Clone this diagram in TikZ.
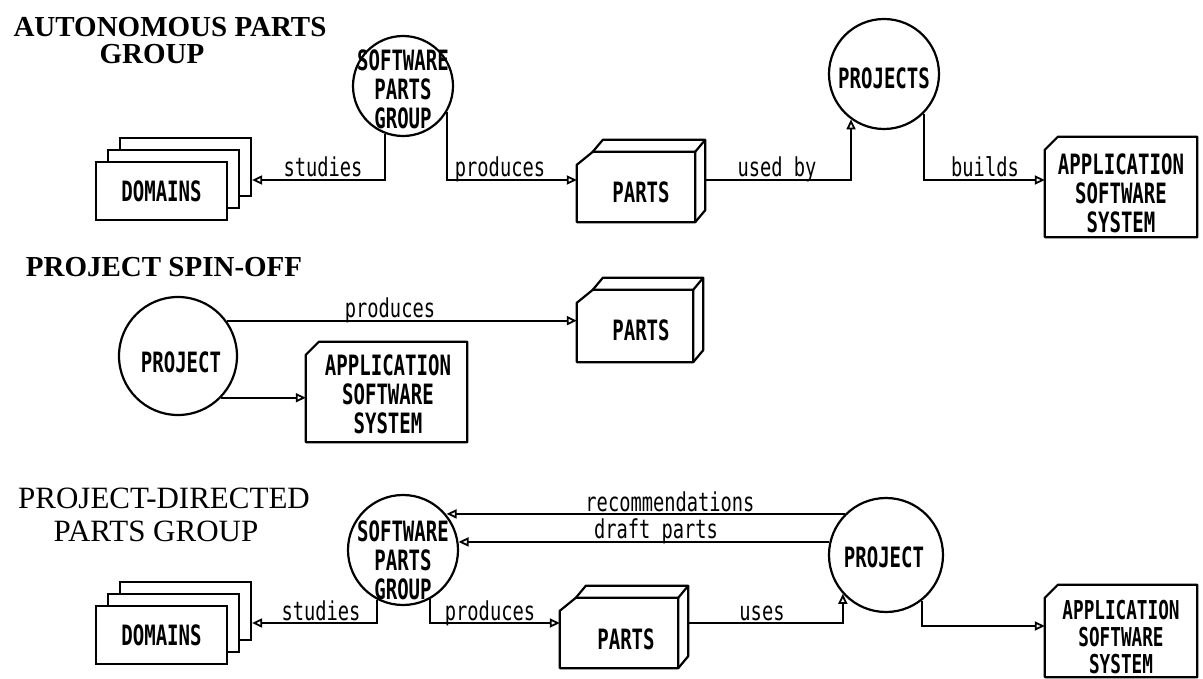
\documentclass[tikz,border=0pt]{standalone}
\usepackage{fontspec}
\newfontfamily\plotfont[FakeStretch=0.68]{DejaVu Sans Mono}
\newfontfamily\labelfont[FakeStretch=0.72]{DejaVu Sans Mono}
\newfontfamily\titlefont{Liberation Serif}
\usetikzlibrary{arrows.meta,calc}

% a box seen in perspective, with its top-left front corner cut off
\newcommand\partsbox[1]{%
  \draw[ln, fill=white] (#1.south west) -- ($(#1.north west)+(0,13)$)
     -- ($(#1.north west)+(16,0)$) -- (#1.north east) -- (#1.south east) -- cycle;
  \draw[ln] ($(#1.north west)+(16,0)$) -- ++(10,-12) -- ($(#1.north east)+(10,-12)$)
     -- ($(#1.south east)+(10,-12)$) -- (#1.south east);
  \draw[ln] (#1.north east) -- ++(10,-12);}
% a card with its top-left corner cut off
\newcommand\cardbox[1]{%
  \draw[ln] (#1.south west) -- ($(#1.north west)+(0,13)$)
     -- ($(#1.north west)+(13,0)$) -- (#1.north east) -- (#1.south east) -- cycle;}

\tikzset{
  ln/.style={line width=2.2pt, line join=round},
  conn/.style={line width=2.2pt, -{Triangle[open, length=10pt, width=9pt, line width=1.8pt]}},
  bubble/.style={circle, draw, line width=2.2pt, inner sep=0pt},
  boxtext/.style={font=\plotfont\bfseries\fontsize{28}{29}\selectfont, align=center, inner sep=0pt},
  lbl/.style={font=\labelfont\fontsize{26}{26}\selectfont, inner sep=0pt, anchor=base},
  ttl/.style={font=\titlefont\bfseries\fontsize{29}{30}\selectfont, inner sep=0pt},
  ttlthin/.style={font=\titlefont\fontsize{31}{32}\selectfont, inner sep=0pt},
  dom/.style={draw, line width=2.2pt, fill=white, minimum width=131pt, minimum height=58pt, inner sep=0pt},
  face/.style={minimum width=#1, minimum height=70pt, inner sep=0pt},
  card/.style={minimum width=#1, inner sep=0pt}
}

\begin{document}
\begin{tikzpicture}[x=1pt, y=-1pt]
  \path[fill=white] (0,0) rectangle (1203,679);
  \useasboundingbox (0,0) rectangle (1203,679);

  % ---------------- autonomous parts group ----------------
  \node[ttl] (t1a) at (170,27) {AUTONOMOUS PARTS};
  \node[ttl] (t1b) at (152,54) {GROUP};

  \node[bubble, minimum size=100pt] (spg1) at (403,86) {};
  \node[boxtext] (spg1t) at (403,89) {SOFTWARE\\PARTS\\GROUP};

  \node[dom] (d1back) at (185.5,167) {};
  \node[dom] (d1mid) at (173.5,179) {};
  \node[dom, boxtext] (d1) at (161.5,191) {DOMAINS};

  \node[face=118pt] (p1) at (636,187) {};
  \partsbox{p1}
  \node[boxtext] (p1t) at (641,192) {PARTS};

  \node[bubble, minimum size=110pt] (proj1) at (884,74) {};
  \node[boxtext] (proj1t) at (884,78) {PROJECTS};

  \node[card=152pt, minimum height=100pt] (app1) at (1121,187) {};
  \cardbox{app1}
  \node[boxtext] (app1t) at (1121,193) {APPLICATION\\SOFTWARE\\SYSTEM};

  \coordinate (r1) at (0,180);
  \draw[conn] (spg1.249) |- (d1back.east |- r1);
  \draw[conn] (spg1.329) |- (p1.west |- r1);
  \draw[conn] ($(p1.east |- r1)+(10,0)$) -| (proj1.234);
  \draw[conn] (proj1.315) |- (app1.west |- r1);
  \node[lbl] (l1a) at (323,177) {studies};
  \node[lbl] (l1b) at (500,177) {produces};
  \node[lbl] (l1c) at (777,177) {used by};
  \node[lbl] (l1d) at (985,177) {builds};

  % ---------------- project spin-off ----------------
  \node[ttl] (t2) at (164,267) {PROJECT SPIN-OFF};

  \node[bubble, minimum size=118pt] (proj2) at (178,356) {};
  \node[boxtext] (proj2t) at (181,362) {PROJECT};

  \node[face=116pt, minimum height=72pt] (p2) at (635,326) {};
  \partsbox{p2}
  \node[boxtext] (p2t) at (641,330) {PARTS};

  \node[card=161pt, minimum height=100pt] (app2) at (386.5,392) {};
  \cardbox{app2}
  \node[boxtext] (app2t) at (388,394) {APPLICATION\\SOFTWARE\\SYSTEM};

  \draw[conn] (proj2.36) -- (proj2.36 -| p2.west);
  \draw[conn] (proj2.316) -- (proj2.316 -| app2.west);
  \node[lbl] (l2a) at (390,318) {produces};

  % ---------------- project-directed parts group ----------------
  \node[ttlthin] (t3a) at (164,498) {PROJECT-DIRECTED};
  \node[ttlthin] (t3b) at (156,531) {PARTS GROUP};

  \node[bubble, minimum size=110pt] (spg3) at (403,550) {};
  \node[boxtext] (spg3t) at (403,560) {SOFTWARE\\PARTS\\GROUP};

  \node[bubble, minimum size=114pt] (proj3) at (886,555) {};
  \node[boxtext] (proj3t) at (884,557) {PROJECT};

  \node[dom] (d3back) at (185.5,611) {};
  \node[dom] (d3mid) at (173.5,623) {};
  \node[dom, boxtext] (d3) at (161.5,635) {DOMAINS};

  \node[face=118pt] (p3) at (619,633) {};
  \partsbox{p3}
  \node[boxtext] (p3t) at (626,639) {PARTS};

  \node[card=152pt, minimum height=92pt] (app3) at (1121,631) {};
  \cardbox{app3}
  \node[boxtext, font=\plotfont\bfseries\fontsize{26}{27}\selectfont] (app3t) at (1121,637) {APPLICATION\\SOFTWARE\\SYSTEM};

  \coordinate (r3) at (0,623);
  \coordinate (r3b) at (0,626);
  \draw[conn] (proj3.135) -- (spg3.39 |- proj3.135);
  \draw[conn] (proj3.167) -- (spg3.8 |- proj3.167);
  \draw[conn] (spg3.242) |- (d3back.east |- r3);
  \draw[conn] (spg3.299) |- (p3.west |- r3);
  \draw[conn] ($(p3.east |- r3)+(10,0)$) -| (proj3.222);
  \draw[conn] (proj3.308) |- (app3.west |- r3b);
  \node[lbl] (l3a) at (670,511) {recommendations};
  \node[lbl] (l3b) at (656,538) {draft parts};
  \node[lbl] (l3c) at (321,620) {studies};
  \node[lbl] (l3d) at (490,620) {produces};
  \node[lbl] (l3e) at (762,620) {uses};
\end{tikzpicture}
\end{document}
